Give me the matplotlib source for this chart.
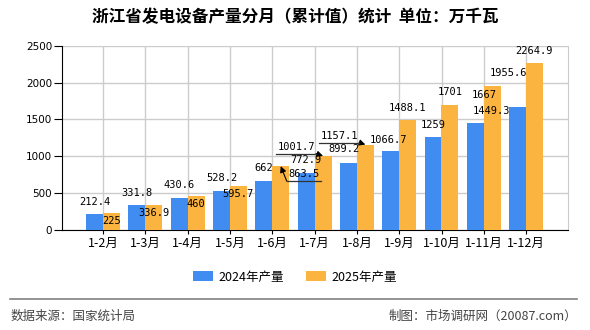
import matplotlib.pyplot as plt
import numpy as np

plt.rcParams['font.family'] = ['Noto Sans CJK SC', 'DejaVu Sans']

months = ['1-2月', '1-3月', '1-4月', '1-5月', '1-6月', '1-7月',
          '1-8月', '1-9月', '1-10月', '1-11月', '1-12月']
output_2024 = [212.4, 331.8, 430.6, 528.2, 662, 772.9, 899.2, 1066.7, 1259, 1449.3, 1667]
output_2025 = [225, 336.9, 460, 595.7, 863.5, 1001.7, 1157.1, 1488.1, 1701, 1955.6, 2264.9]
series_names = ['2024年产量', '2025年产量']

# label offsets in pixels from bar top (dx, dy)
offs_2024 = [(0, 12), (0, 12.5), (0, 12.5), (0, 12.5), (0, 12.5), (0, 12.5),
             (-4, 14), (-2, 11), (0, 12.5), (16, 12.5), (-33, 12)]
offs_2025 = [(0, -8.5), (0, -8), (0, -8.5), (0, -8.5), (23, -8), (-27, 9.4),
             (-26, 9), (0, 12), (0, 12.5), (16, 12.6), (-1, 12)]
arrow_idx = [4, 5, 6]

blue = '#418CF0'
orange = '#FCB441'

fig = plt.figure(figsize=(5.9, 3.3), dpi=100)
ax = fig.add_axes([62 / 590, 1 - 229.5 / 330, 506 / 590, 183.5 / 330])

x = np.arange(len(months))
w = 0.4
b1 = ax.bar(x - w / 2, output_2024, w, color=blue, label=series_names[0], zorder=3)
b2 = ax.bar(x + w / 2, output_2025, w, color=orange, label=series_names[1], zorder=3)

ax.set_xlim(-0.97, len(months) - 0.01)
ax.set_ylim(0, 2500)
ax.set_yticks(np.arange(0, 2501, 500))
ax.set_xticks(x)
ax.set_xticklabels(months, fontsize=9)
ax.tick_params(axis='y', labelsize=7.5, length=6, width=0.8, pad=1)
ax.tick_params(axis='x', length=3, width=0.8, pad=2)
for lab in ax.get_yticklabels():
    lab.set_family('DejaVu Sans')
ax.grid(True, color='#cccccc', linewidth=1, zorder=0)
ax.set_axisbelow(True)
ax.spines['left'].set_color('black')
ax.spines['bottom'].set_color('black')
ax.spines['top'].set_visible(False)
ax.spines['right'].set_color('#cccccc')

lab_font = dict(fontsize=7.5, family='DejaVu Sans Mono', ha='center', va='center', zorder=5)

for i, v in enumerate(output_2024):
    dx, dy = offs_2024[i]
    ax.annotate(f'{v:g}', xy=(x[i] - w / 2, v), xytext=(dx, dy),
                textcoords='offset pixels', **lab_font)

inv = ax.transData.inverted()
for i, v in enumerate(output_2025):
    dx, dy = offs_2025[i]
    xi = x[i] + w / 2
    ax.annotate(f'{v:g}', xy=(xi, v), xytext=(dx, dy),
                textcoords='offset pixels', **lab_font)
    if i in arrow_idx:
        # leader line under the label with an arrow to the bar top
        ly = dy - 7
        if dx > 0:
            near, far = dx - 17, dx + 17
        else:
            near, far = dx + 20, dx - 20
        ax.annotate('', xy=(xi, v), xytext=(near, ly), textcoords='offset pixels',
                    arrowprops=dict(arrowstyle='-|>', color='black', lw=0.8,
                                    shrinkA=0, shrinkB=0, mutation_scale=9),
                    zorder=6)
        base = ax.transData.transform((xi, v))
        pts = inv.transform(np.vstack([base + [far, ly], base + [near, ly]]))
        ax.plot(pts[:, 0], pts[:, 1], color='#333333', lw=0.9, zorder=6)

fig.text(0.5, 1 - 17.5 / 330, '浙江省发电设备产量分月（累计值）统计  单位：万千瓦',
         ha='center', va='center', fontsize=12, fontweight='bold')

fig.legend(handles=[b1, b2], labels=series_names, loc='center',
           bbox_to_anchor=(0.5, 1 - 277 / 330), ncol=2, frameon=False,
           fontsize=9, handlelength=1.6, handleheight=0.8,
           columnspacing=1.8, handletextpad=0.4)

fig.add_artist(plt.Line2D([10 / 590, 577 / 590], [1 - 298.5 / 330] * 2,
                          color='#808080', lw=1.2))
fig.text(11 / 590, 1 - 316.5 / 330, '数据来源：国家统计局', ha='left', va='center',
         fontsize=9, color='#444444')
fig.text(577 / 590, 1 - 316.5 / 330, '制图：市场调研网（20087.com）', ha='right',
         va='center', fontsize=9, color='#444444')

fig.savefig('out.png', dpi=100)
